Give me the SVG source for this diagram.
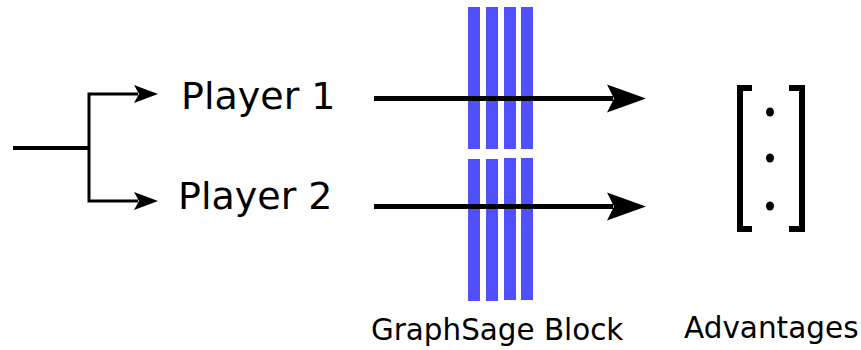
<svg xmlns="http://www.w3.org/2000/svg" width="861" height="350" viewBox="0 0 861 350">
<style>
.t{font-family:"DejaVu Sans",sans-serif;fill:#000}
.bar{fill:#5050ff}
.ln{stroke:#000;fill:none}
</style>
<defs>
<marker id="sm" markerUnits="userSpaceOnUse" markerWidth="26" markerHeight="20" refX="4" refY="9" orient="auto" viewBox="0 0 26 18">
<path d="M0,0 L24,9 L0,18 L5,9 Z" fill="#000"/>
</marker>
<marker id="big" markerUnits="userSpaceOnUse" markerWidth="40" markerHeight="30" refX="6" refY="14" orient="auto" viewBox="0 0 40 28">
<path d="M0,0 L39,14 L0,28 L7,14 Z" fill="#000"/>
</marker>
</defs>
<rect width="861" height="350" fill="#fff"/>
<g id="block">
<rect class="bar" x="468" y="7" width="12" height="142"/>
<rect class="bar" x="486" y="7" width="12" height="142"/>
<rect class="bar" x="504" y="7" width="12" height="142"/>
<rect class="bar" x="521" y="7" width="12" height="142"/>
<rect class="bar" x="468" y="159" width="12" height="142"/>
<rect class="bar" x="486" y="159" width="12" height="142"/>
<rect class="bar" x="504" y="158" width="12" height="142"/>
<rect class="bar" x="521" y="158" width="12" height="142"/>
<text class="t" x="371" y="340" font-size="29.4">GraphSage Block</text>
</g>
<g id="player1"><text class="t" x="181" y="109" font-size="38">Player 1</text></g>
<g id="player2"><text class="t" x="178" y="209" font-size="38">Player 2</text></g>
<g id="advantages">
<path class="ln" stroke-width="6" d="M752,88 H740 V229 H752 M789,88 H802 V229 H789"/>
<ellipse cx="770" cy="112" rx="4" ry="4.5"/>
<ellipse cx="770" cy="158" rx="4" ry="4.5"/>
<ellipse cx="770" cy="206" rx="4" ry="4.5"/>
<text class="t" x="684" y="338" font-size="29.5">Advantages</text>
</g>
<g id="connectors">
<path class="ln" stroke-width="4" d="M13,148 H89"/>
<path class="ln" stroke-width="3" d="M89,148 V94 H138" marker-end="url(#sm)"/>
<path class="ln" stroke-width="3" d="M89,148 V201 H138" marker-end="url(#sm)"/>
<path class="ln" stroke-width="5" d="M374,98.5 H613" marker-end="url(#big)"/>
<path class="ln" stroke-width="5" d="M374,206.5 H613" marker-end="url(#big)"/>
</g>
</svg>
